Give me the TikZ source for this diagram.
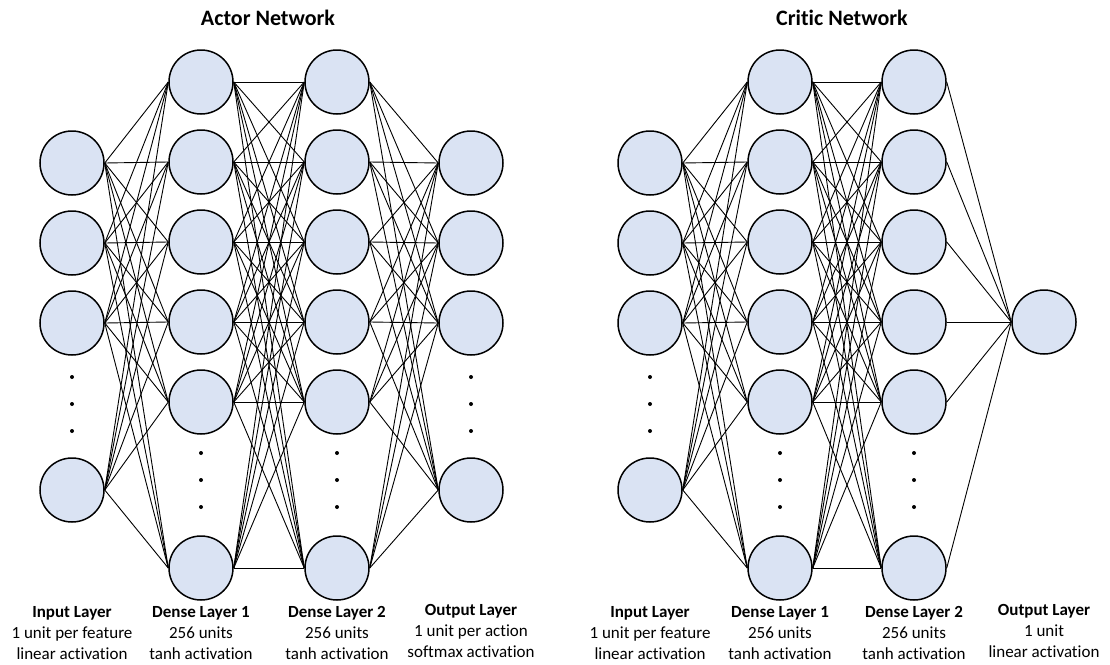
\documentclass[tikz,border=0pt]{standalone}
\usepackage{fontspec}
\setmainfont{Carlito}[Ligatures=NoCommon]
\definecolor{nodefill}{HTML}{DAE3F3}
\begin{document}
\begin{tikzpicture}[x=1pt,y=-1pt,
  neuron/.style={circle,draw=black,line width=1.5pt,fill=nodefill,minimum size=64pt,inner sep=0pt},
  conn/.style={line width=0.9pt,black},
  vdot/.style={circle,fill=black,inner sep=0pt,minimum size=4pt},
  nettitle/.style={font=\fontsize{22}{26}\selectfont\bfseries,anchor=base},
  layerlabel/.style={align=center,font=\fontsize{17}{21.3}\selectfont}]
\useasboundingbox (0,0) rectangle (1110,664);
% ---------- Actor ----------
\foreach \i/\y in {1/163,2/243,3/323,4/490} \node[neuron] (ai\i) at (72,\y) {};
\foreach \i/\y in {1/82,2/162,3/242,4/322,5/402,6/568} \node[neuron] (ah\i) at (201,\y) {};
\foreach \i/\y in {1/82,2/162,3/242,4/322,5/402,6/568} \node[neuron] (ag\i) at (337,\y) {};
\foreach \i/\y in {1/163,2/243,3/323,4/490} \node[neuron] (ao\i) at (471,\y) {};
\foreach \i in {1,...,4} \foreach \j in {1,...,6} \draw[conn] (ai\i.east) -- (ah\j.west);
\foreach \i in {1,...,6} \foreach \j in {1,...,6} \draw[conn] (ah\i.east) -- (ag\j.west);
\foreach \i in {1,...,6} \foreach \j in {1,...,4} \draw[conn] (ag\i.east) -- (ao\j.west);
% ---------- Critic ----------
\foreach \i/\y in {1/163,2/243,3/323,4/490} \node[neuron] (ci\i) at (650,\y) {};
\foreach \i/\y in {1/82,2/162,3/242,4/322,5/402,6/568} \node[neuron] (ch\i) at (780,\y) {};
\foreach \i/\y in {1/82,2/162,3/242,4/322,5/402,6/568} \node[neuron] (cg\i) at (914,\y) {};
\node[neuron] (co1) at (1044,322) {};
\foreach \i in {1,...,4} \foreach \j in {1,...,6} \draw[conn] (ci\i.east) -- (ch\j.west);
\foreach \i in {1,...,6} \foreach \j in {1,...,6} \draw[conn] (ch\i.east) -- (cg\j.west);
\foreach \i in {1,...,6} \draw[conn] (cg\i.east) -- (co1.west);
% ---------- dots ----------
\foreach \x in {72,471,650} \foreach \y in {377,404,431} \node[vdot] (d-\x-\y) at (\x,\y) {};
\foreach \x in {201,337,780,914} \foreach \y in {453,480,507} \node[vdot] (d-\x-\y) at (\x,\y) {};
% ---------- titles ----------
\node[nettitle] (atitle) at (268,25) {Actor Network};
\node[nettitle] (ctitle) at (842,25) {Critic Network};
% ---------- labels ----------
\node[layerlabel] (lai) at (72,633) {\textbf{Input Layer}\\1 unit per feature\\linear activation};
\node[layerlabel] (lah) at (201,633) {\textbf{Dense Layer 1}\\256 units\\tanh activation};
\node[layerlabel] (lag) at (337,633) {\textbf{Dense Layer 2}\\256 units\\tanh activation};
\node[layerlabel] (lao) at (471,631) {\textbf{Output Layer}\\1 unit per action\\softmax activation};
\node[layerlabel] (lci) at (650,633) {\textbf{Input Layer}\\1 unit per feature\\linear activation};
\node[layerlabel] (lch) at (780,633) {\textbf{Dense Layer 1}\\256 units\\tanh activation};
\node[layerlabel] (lcg) at (914,633) {\textbf{Dense Layer 2}\\256 units\\tanh activation};
\node[layerlabel] (lco) at (1044,631) {\textbf{Output Layer}\\1 unit\\linear activation};
\end{tikzpicture}
\end{document}
